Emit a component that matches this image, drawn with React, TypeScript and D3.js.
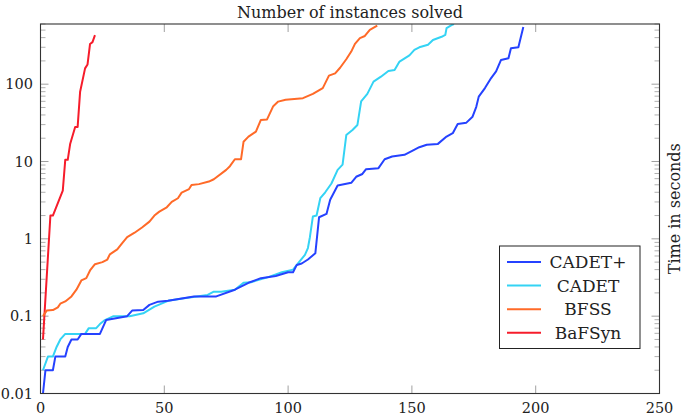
import { useEffect, useRef } from "react";
import * as d3 from "d3";

// cactus plot: [instances solved, time in seconds]
const seriesNames = ["CADET+", "CADET", "BFSS", "BaFSyn"];
const seriesColors = ["#2542ff", "#34d3f4", "#ff6a28", "#f61c2b"];

const cadetPlus: [number, number][] = [
  [1, 0.01], [2, 0.02], [5, 0.02], [6, 0.03], [10, 0.03], [11, 0.04], [12.5, 0.05], [15, 0.05],
  [16.5, 0.059], [24, 0.059], [26.5, 0.089], [35, 0.1], [37, 0.118], [41.5, 0.12], [44, 0.14],
  [47.5, 0.154], [51.5, 0.158], [62, 0.18], [71, 0.18], [78.5, 0.22], [84, 0.27], [89, 0.31],
  [95, 0.33], [100, 0.37], [102, 0.37], [103.5, 0.46], [105.5, 0.48], [108, 0.54], [111, 0.65],
  [112.5, 1.9], [115.5, 2.1], [117, 3.2], [120, 4.9], [125.5, 5.3], [127.5, 6.35], [130, 6.9],
  [131.5, 7.95], [136.5, 8.2], [139, 10.7], [142, 11.6], [147, 12.2], [150.5, 13.9], [153, 15.3],
  [156, 16.5], [160.5, 16.9], [164, 21], [166.5, 23.2], [168.5, 30.6], [172, 31.8], [174.5, 38],
  [176, 51], [177, 69], [179.5, 89], [182, 120], [184, 146], [186, 206], [189, 217], [190, 292],
  [193, 300], [195, 550],
];

const cadet: [number, number][] = [
  [1, 0.02], [3, 0.03], [5, 0.03], [6.5, 0.04], [8, 0.05], [10, 0.059], [18, 0.059], [19.5, 0.07],
  [22.5, 0.07], [24, 0.079], [26, 0.089], [29.5, 0.1], [36, 0.1], [41.5, 0.109], [46, 0.133],
  [51.5, 0.158], [58, 0.17], [67.5, 0.188], [70, 0.207], [73, 0.207], [78.5, 0.22], [82, 0.27],
  [85, 0.275], [92, 0.32], [97.5, 0.37], [102, 0.4], [104, 0.48], [106.8, 0.62], [108, 0.76],
  [108.8, 1.05], [110, 1.94], [111.5, 2.0], [113, 3.35], [115, 4.0], [117.5, 5.2], [120, 7.8],
  [122, 9.1], [123.5, 22], [126, 25.6], [128, 29.7], [129.5, 60], [132, 75], [134.5, 108],
  [137.5, 125], [140.5, 148], [143, 152], [145, 196], [149, 236], [151, 278], [153, 300],
  [156.5, 324], [158.5, 373], [162, 410], [163.5, 435], [164, 530], [166, 580], [167, 600],
];

const bfss: [number, number][] = [
  [1, 0.1], [2.5, 0.118], [5, 0.12], [7, 0.13], [8, 0.145], [10, 0.155], [12.5, 0.18], [14.5, 0.22],
  [16.5, 0.29], [18.5, 0.31], [20, 0.39], [22, 0.47], [25, 0.5], [27, 0.54], [28, 0.63], [31, 0.73],
  [33, 0.88], [35, 1.05], [38, 1.2], [41, 1.4], [44, 1.67], [46, 2.0], [48, 2.25], [51, 2.56],
  [53, 3.0], [55.5, 3.35], [57, 3.96], [60, 4.4], [61, 4.97], [64, 5.1], [68, 5.5], [70, 5.9],
  [75, 7.8], [76.5, 8.7], [78.5, 10.7], [81, 10.7], [82, 18], [84, 21], [87, 24.3], [89, 34.5],
  [91.5, 35], [94, 52], [96, 59.5], [99, 63], [106, 66], [110, 75], [114, 89], [116.5, 129],
  [119, 138], [121, 163], [123.5, 210], [125.5, 264], [127, 332], [129, 394], [131, 420],
  [133, 504], [136, 570],
];

const bafsyn: [number, number][] = [
  [1, 0.05], [4, 2], [5, 2], [9, 4.2], [10, 10.5], [11, 10.5], [12, 17], [14, 28], [15, 28],
  [16, 80], [18, 160], [19, 180], [20, 330], [21, 350], [22, 430],
];

const xTicks = [0, 50, 100, 150, 200, 250];
const yMajorTicks = [0.01, 0.1, 1, 10, 100];
const yTickLabels = ["0.01", "0.1", "1", "10", "100"];

const W = 685;
const H = 417;
const FONT = "'DejaVu Serif', serif";

const App = () => {
  const svgRef = useRef<SVGSVGElement>(null);

  useEffect(() => {
    const svg = d3.select(svgRef.current);
    svg.selectAll("*").remove();

    const left = 40.5, right = 659.5, top = 24, bottom = 393.5;

    const x = d3.scaleLinear().domain([0, 250]).range([left, right]);
    const y = d3.scaleLog().domain([0.01, 600]).range([bottom, top]);

    const yMinor: number[] = [];
    yMajorTicks.forEach(d => {
      for (let k = 2; k <= 9; k++) {
        const v = d * k;
        if (v <= 600) yMinor.push(v);
      }
    });

    svg.append("defs").append("clipPath").attr("id", "plot-clip")
      .append("rect")
      .attr("x", left).attr("y", top)
      .attr("width", right - left).attr("height", bottom - top);

    // minor ticks on left and right
    const ticks = svg.append("g");
    ticks.selectAll(".minor-l").data(yMinor).join("line")
      .attr("x1", left).attr("x2", left + 5)
      .attr("y1", d => y(d)).attr("y2", d => y(d))
      .style("stroke", "#b0b0b0").style("stroke-width", 1);
    ticks.selectAll(".minor-r").data(yMinor).join("line")
      .attr("x1", right).attr("x2", right - 5)
      .attr("y1", d => y(d)).attr("y2", d => y(d))
      .style("stroke", "#b0b0b0").style("stroke-width", 1);
    ticks.selectAll(".major-l").data(yMajorTicks).join("line")
      .attr("x1", left).attr("x2", left + 8)
      .attr("y1", d => y(d)).attr("y2", d => y(d))
      .style("stroke", "#a0a0a0").style("stroke-width", 1);
    ticks.selectAll(".major-r").data(yMajorTicks).join("line")
      .attr("x1", right).attr("x2", right - 8)
      .attr("y1", d => y(d)).attr("y2", d => y(d))
      .style("stroke", "#a0a0a0").style("stroke-width", 1);
    ticks.selectAll(".x-b").data(xTicks).join("line")
      .attr("x1", d => x(d)).attr("x2", d => x(d))
      .attr("y1", bottom).attr("y2", bottom - 8)
      .style("stroke", "#a0a0a0").style("stroke-width", 1);
    ticks.selectAll(".x-t").data(xTicks).join("line")
      .attr("x1", d => x(d)).attr("x2", d => x(d))
      .attr("y1", top).attr("y2", top + 8)
      .style("stroke", "#a0a0a0").style("stroke-width", 1);

    // series
    const line = d3.line<[number, number]>()
      .x(d => x(d[0]))
      .y(d => y(d[1]));

    const allSeries = [cadetPlus, cadet, bfss, bafsyn];
    const g = svg.append("g").attr("clip-path", "url(#plot-clip)");
    // draw back to front so CADET+ sits on top of CADET like the original
    [3, 2, 1, 0].forEach(i => {
      g.append("path")
        .datum(allSeries[i])
        .attr("d", line)
        .style("fill", "none")
        .style("stroke", seriesColors[i])
        .style("stroke-width", 2)
        .style("stroke-linejoin", "round");
    });

    // frame
    svg.append("rect")
      .attr("x", left).attr("y", top)
      .attr("width", right - left).attr("height", bottom - top)
      .style("fill", "none").style("stroke", "#333").style("stroke-width", 1.1);

    // tick labels
    svg.selectAll(".y-label").data(yMajorTicks).join("text")
      .attr("x", 33).attr("y", d => y(d))
      .attr("dy", "0.36em")
      .attr("text-anchor", "end")
      .style("font-family", FONT).style("font-size", "14.5px").style("fill", "#222")
      .text((d, i) => yTickLabels[i]);

    svg.selectAll(".x-label").data(xTicks).join("text")
      .attr("x", d => x(d)).attr("y", 413)
      .attr("text-anchor", "middle")
      .style("font-family", FONT).style("font-size", "14.5px").style("fill", "#222")
      .text(d => String(d));

    // title and side label
    svg.append("text")
      .attr("x", (left + right) / 2).attr("y", 17.5)
      .attr("text-anchor", "middle")
      .style("font-family", FONT).style("font-size", "16px").style("fill", "#222")
      .text("Number of instances solved");

    svg.append("text")
      .attr("transform", `translate(680, ${(top + bottom) / 2}) rotate(-90)`)
      .attr("text-anchor", "middle")
      .style("font-family", FONT).style("font-size", "16px").style("fill", "#222")
      .text("Time in seconds");

    // legend
    const lg = svg.append("g");
    lg.append("rect")
      .attr("x", 499.5).attr("y", 246)
      .attr("width", 140.5).attr("height", 102.5)
      .style("fill", "white").style("stroke", "#222").style("stroke-width", 1);
    seriesNames.forEach((name, i) => {
      const ry = 262 + i * 23.6;
      lg.append("line")
        .attr("x1", 507).attr("x2", 541)
        .attr("y1", ry).attr("y2", ry)
        .style("stroke", seriesColors[i]).style("stroke-width", 2);
      lg.append("text")
        .attr("x", 588).attr("y", ry)
        .attr("dy", "0.36em")
        .attr("text-anchor", "middle")
        .style("font-family", FONT).style("font-size", "17px").style("fill", "#222")
        .text(name);
    });
  }, []);

  return (
    <svg
      ref={svgRef}
      width={W}
      height={H}
      style={{ position: "absolute", left: 0, top: 0, background: "white" }}
    ></svg>
  );
};

export default App;
